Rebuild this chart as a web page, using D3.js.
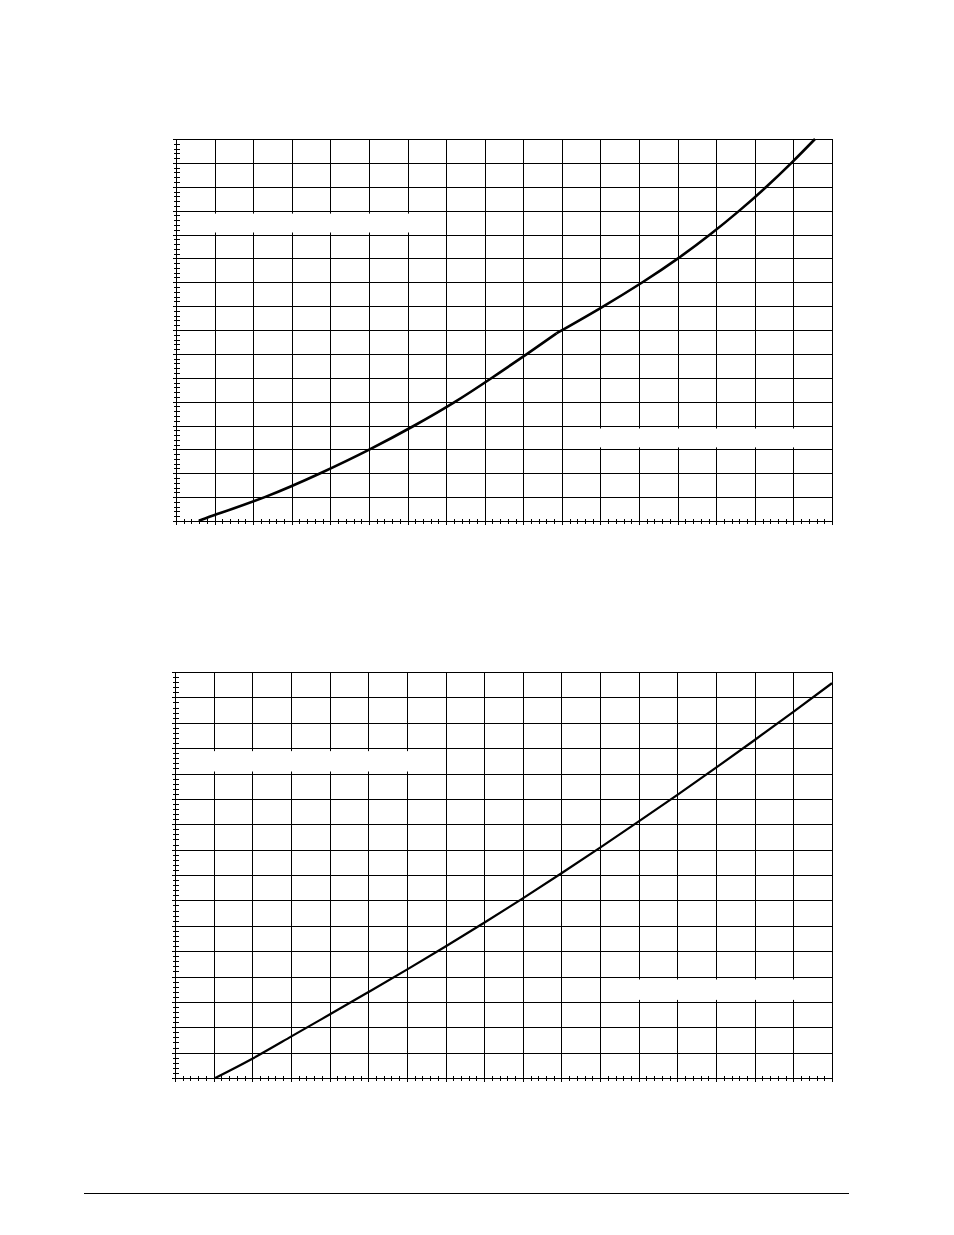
<!DOCTYPE html>
<html lang="en">
<head>
<meta charset="utf-8">
<title>Curves</title>
<style>
  body { margin: 0; background: #ffffff; overflow: hidden; }
  .grid line, .minor line { stroke: #000; stroke-width: 1; shape-rendering: crispEdges; }
  .curve { fill: none; stroke: #000; stroke-linejoin: round; }
</style>
</head>
<body>
<div id="page"></div>
<script src="https://cdn.jsdelivr.net/npm/d3@7"></script>
<script>

// grid: 17 columns x 16 rows, 5 minor ticks per division
var columns = d3.range(0, 18);
var rows = d3.range(0, 17);
var minorCols = d3.range(0, 86).map(function(i) { return i / 5; });
var minorRows = d3.range(0, 81).map(function(i) { return i / 5; });

// upper chart curve (grid units), two pieces meeting at the kink
var upperLow = [[0.59, 0], [1, 0.25], [2.3, 1], [3.74, 2], [5.02, 3], [6.18, 4],
                [7.24, 5], [8.19, 6], [9.1, 7], [9.86, 7.86]];
var upperHigh = [[9.86, 7.86], [11, 8.92], [12.09, 10], [13.01, 11], [13.84, 12],
                 [14.6, 13], [15.3, 14], [15.95, 15], [16.56, 16]];

// lower chart curve (grid units)
var lowerLine = [[1.04, 0], [2, 0.76], [3, 1.63], [4, 2.5], [5, 3.38], [6, 4.27],
                 [7, 5.18], [8, 6.12], [9, 7.08], [10, 8.07], [11, 9.08], [12, 10.11],
                 [13, 11.16], [14, 12.23], [15, 13.32], [16, 14.43], [17, 15.56]];

// blank label boxes on the grid, in grid units
var upperBoxes = [{x0: 0, x1: 7, y0: 12, y1: 13}, {x0: 10, x1: 17, y0: 3, y1: 4}];
var lowerBoxes = [{x0: 0, x1: 7, y0: 12, y1: 13}, {x0: 11, x1: 17, y0: 3, y1: 4}];

var svg = d3.select("#page").append("svg")
    .attr("width", 954)
    .attr("height", 1235);

svg.append("rect").attr("width", 954).attr("height", 1235).style("fill", "#fff");

function drawChart(box, pieces, boxes, lineWidth) {
  var x = d3.scaleLinear().domain([0, 17]).range([box.left, box.right]);
  var y = d3.scaleLinear().domain([0, 16]).range([box.bottom, box.top]);
  var h = box.bottom - box.top;
  var w = box.right - box.left;
  var g = svg.append("g");

  g.append("g").attr("class", "grid")
    .attr("transform", "translate(0," + (box.bottom + 4) + ")")
    .call(d3.axisBottom(x).tickValues(columns).tickSize(-(h + 4)).tickFormat(""))
    .call(function(a) { a.select(".domain").remove(); });

  g.append("g").attr("class", "grid")
    .attr("transform", "translate(" + (box.left - 3) + ",0)")
    .call(d3.axisLeft(y).tickValues(rows).tickSize(-(w + 3)).tickFormat(""))
    .call(function(a) { a.select(".domain").remove(); });

  g.selectAll("rect.blank")
    .data(boxes)
    .enter().append("rect")
      .attr("class", "blank")
      .attr("x", function(d) { return x(d.x0) + 1.5; })
      .attr("width", function(d) { return x(d.x1) - x(d.x0) - 2.5; })
      .attr("y", function(d) { return y(d.y1) + 3; })
      .attr("height", function(d) { return y(d.y0) - y(d.y1) - 5; })
      .style("fill", "#fff");

  g.append("g").attr("class", "minor")
    .attr("transform", "translate(0," + (box.bottom - 2) + ")")
    .call(d3.axisBottom(x).tickValues(minorCols).tickSize(5).tickFormat(""))
    .call(function(a) { a.select(".domain").remove(); });

  g.append("g").attr("class", "minor")
    .attr("transform", "translate(" + (box.left + 4) + ",0)")
    .call(d3.axisLeft(y).tickValues(minorRows).tickSize(6).tickFormat(""))
    .call(function(a) { a.select(".domain").remove(); });

  var line = d3.line()
    .x(function(d) { return x(d[0]); })
    .y(function(d) { return y(d[1]); })
    .curve(d3.curveNatural);

  pieces.forEach(function(p) {
    g.append("path")
      .attr("class", "curve")
      .attr("d", line(p))
      .style("stroke-width", lineWidth);
  });
}

drawChart({left: 176, right: 832, top: 139, bottom: 521}, [upperLow, upperHigh], upperBoxes, 2.6);
drawChart({left: 175, right: 832, top: 672, bottom: 1078}, [lowerLine], lowerBoxes, 2.2);

svg.append("line")
  .attr("x1", 84).attr("x2", 849)
  .attr("y1", 1193.5).attr("y2", 1193.5)
  .style("stroke", "#000")
  .style("stroke-width", 1);

</script>
</body>
</html>
